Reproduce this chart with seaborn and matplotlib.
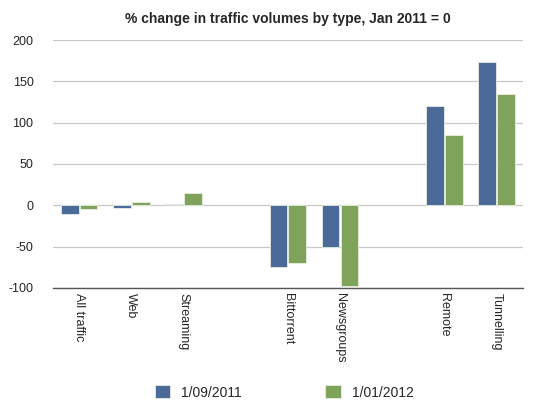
import numpy as np
import pandas as pd
import seaborn as sns
import matplotlib.pyplot as plt

# categories, with two blank slots used as group gaps
categories = ["All traffic", "Web", "Streaming", "", "Bittorrent",
              "Newsgroups", " ", "Remote", "Tunnelling"]
sep_2011 = [-10, -3, 2, np.nan, -75, -50, np.nan, 120, 173]
jan_2012 = [-5, 4, 15, np.nan, -70, -98, np.nan, 85, 135]
series_names = ["1/09/2011", "1/01/2012"]
yticks = [-100, -50, 0, 50, 100, 150, 200]

df = pd.DataFrame({
    "type": categories * 2,
    "change": sep_2011 + jan_2012,
    "date": [series_names[0]] * len(categories) + [series_names[1]] * len(categories),
})

sns.set_style("white")
plt.rcParams['font.family'] = ['Liberation Sans', 'DejaVu Sans']
plt.rcParams['axes.unicode_minus'] = False

fig = plt.figure(figsize=(5.52, 4.13), dpi=100)
ax = fig.add_axes([0.096, 0.303, 0.851, 0.600])

palette = {series_names[0]: "#4b6a99", series_names[1]: "#80a35c"}
sns.barplot(data=df, x="type", y="change", hue="date", order=categories,
            hue_order=series_names, palette=palette, width=0.72, gap=0.06,
            edgecolor="#e8eee0", linewidth=0.6, errorbar=None, saturation=1,
            ax=ax)

ax.set_ylim(-100, 200)
ax.set_yticks(yticks)
ax.yaxis.grid(True, color="#c8c8c8", linewidth=0.9)
ax.set_axisbelow(True)
for side in ["left", "right", "top"]:
    ax.spines[side].set_visible(False)
ax.spines["bottom"].set_color("#555555")
ax.spines["bottom"].set_linewidth(1.0)
ax.tick_params(axis="both", length=0, labelsize=9)
ax.tick_params(axis="y", pad=14)
plt.setp(ax.get_xticklabels(), rotation=270, va="top", ha="center")
ax.set_xlabel("")
ax.set_ylabel("")
ax.set_title("% change in traffic volumes by type, Jan 2011 = 0",
             fontsize=10, fontweight="bold", pad=12)

ax.legend_.remove()
fig.legend(*ax.get_legend_handles_labels(), loc="center", ncol=2,
           bbox_to_anchor=(0.515, 0.05), frameon=False, fontsize=10,
           handlelength=1.1, handleheight=1.1, columnspacing=6.0,
           handletextpad=0.8)

fig.savefig("out.png", dpi=100)
